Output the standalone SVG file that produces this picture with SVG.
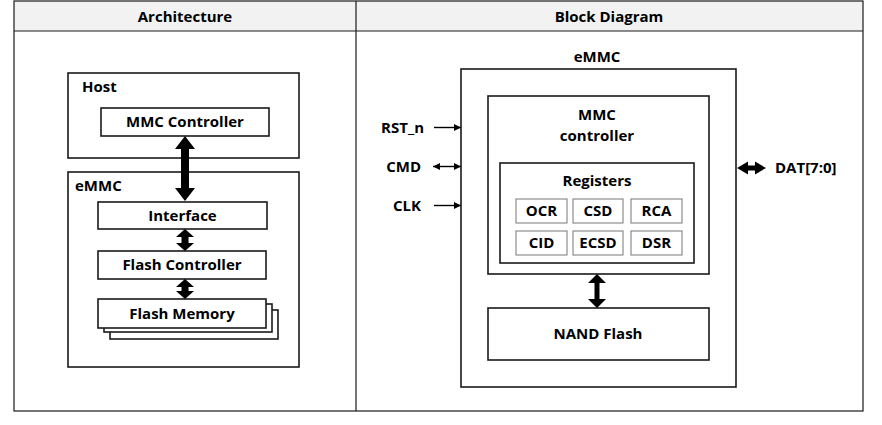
<svg xmlns="http://www.w3.org/2000/svg" width="882" height="425" viewBox="0 0 882 425">
<style>
text{font-family:"Open Sans","Noto Sans","DejaVu Sans",sans-serif;font-weight:bold;font-size:15px;fill:#000}
.c{text-anchor:middle}
.e{text-anchor:end}
.box{fill:#fff;stroke:#1a1a1a;stroke-width:1.6}
.cell{fill:#fff;stroke:#777;stroke-width:1}
.tbl{fill:none;stroke:#1a1a1a;stroke-width:1.2}
.thin{stroke:#000;stroke-width:1.4;fill:none}
.fat{fill:#000}
</style>
<defs>
<marker id="ah" viewBox="0 0 8 8" refX="8" refY="4" markerWidth="7" markerHeight="7" markerUnits="userSpaceOnUse" orient="auto-start-reverse">
<path d="M0,0 L8,4 L0,8 z" fill="#000"/>
</marker>
</defs>
<rect width="882" height="425" fill="#fff"/>
<g id="table">
<rect x="14" y="1" width="849" height="30" fill="#f2f2f2"/>
<rect class="tbl" x="14" y="1" width="849" height="410"/>
<line class="tbl" x1="14" y1="31" x2="863" y2="31"/>
<line class="tbl" x1="356" y1="1" x2="356" y2="411"/>
<text class="c" x="185" y="22">Architecture</text>
<text class="c" x="609" y="22">Block Diagram</text>
</g>
<g id="host">
<rect class="box" x="68" y="73" width="231" height="85"/>
<text x="82" y="92">Host</text>
</g>
<g id="mmc-controller">
<rect class="box" x="101" y="108" width="168" height="28"/>
<text class="c" x="185" y="127">MMC Controller</text>
</g>
<g id="emmc-left">
<rect class="box" x="68" y="172" width="231" height="195"/>
<text x="75" y="191">eMMC</text>
</g>
<g id="interface">
<rect class="box" x="98" y="202" width="169" height="27"/>
<text class="c" x="182.5" y="221">Interface</text>
</g>
<g id="flash-controller">
<rect class="box" x="98" y="251" width="168" height="28"/>
<text class="c" x="182" y="270">Flash Controller</text>
</g>
<g id="flash-memory">
<rect class="box" x="110" y="310" width="168" height="29"/>
<rect class="box" x="104" y="304" width="168" height="28"/>
<rect class="box" x="98" y="299" width="168" height="29"/>
<text class="c" x="182" y="319">Flash Memory</text>
</g>
<g id="emmc-right">
<text class="c" x="597" y="62">eMMC</text>
<rect class="box" x="461" y="69" width="275" height="318"/>
</g>
<g id="mmc-controller-right">
<rect class="box" x="488" y="96" width="221" height="178"/>
<text class="c" x="597" y="120">MMC</text>
<text class="c" x="597" y="141">controller</text>
</g>
<g id="registers">
<rect class="box" x="500" y="163" width="194" height="100"/>
<text class="c" x="597" y="186">Registers</text>
</g>
<g id="reg-ocr"><rect class="cell" x="516" y="199" width="51" height="24"/><text class="c" x="541.5" y="216">OCR</text></g>
<g id="reg-csd"><rect class="cell" x="573" y="199" width="50" height="24"/><text class="c" x="598" y="216">CSD</text></g>
<g id="reg-rca"><rect class="cell" x="631" y="199" width="51" height="24"/><text class="c" x="656.5" y="216">RCA</text></g>
<g id="reg-cid"><rect class="cell" x="516" y="231" width="51" height="24"/><text class="c" x="541.5" y="248">CID</text></g>
<g id="reg-ecsd"><rect class="cell" x="573" y="231" width="50" height="24"/><text class="c" x="598" y="248">ECSD</text></g>
<g id="reg-dsr"><rect class="cell" x="631" y="231" width="51" height="24"/><text class="c" x="656.5" y="248">DSR</text></g>
<g id="nand-flash">
<rect class="box" x="488" y="308" width="221" height="52"/>
<text class="c" x="598" y="339">NAND Flash</text>
</g>
<g id="signals">
<text class="e" x="424" y="133">RST_n</text>
<text class="e" x="421" y="172">CMD</text>
<text class="e" x="421" y="211">CLK</text>
<text x="775" y="173">DAT[7:0]</text>
</g>
<g id="connectors">
<path class="fat" d="M185,136 L195,149 L189,149 L189,188 L195,188 L185,201 L175,188 L181,188 L181,149 L175,149 Z"/>
<path class="fat" d="M185,229 L194,237 L188.5,237 L188.5,243 L194,243 L185,251 L176,243 L181.5,243 L181.5,237 L176,237 Z"/>
<path class="fat" d="M185,279 L194,287 L188.5,287 L188.5,291 L194,291 L185,299 L176,291 L181.5,291 L181.5,287 L176,287 Z"/>
<path class="fat" d="M597,274 L606,283 L599.5,283 L599.5,299 L606,299 L597,308 L588,299 L594.5,299 L594.5,283 L588,283 Z"/>
<path class="fat" d="M737,168 L748,161.5 L748,165.5 L755,165.5 L755,161.5 L766,168 L755,174.5 L755,170.5 L748,170.5 L748,174.5 Z"/>
<line class="thin" x1="434" y1="127.5" x2="461" y2="127.5" marker-end="url(#ah)"/>
<line class="thin" x1="433" y1="166.5" x2="461" y2="166.5" marker-start="url(#ah)" marker-end="url(#ah)"/>
<line class="thin" x1="434" y1="205.5" x2="461" y2="205.5" marker-end="url(#ah)"/>
</g>
</svg>
